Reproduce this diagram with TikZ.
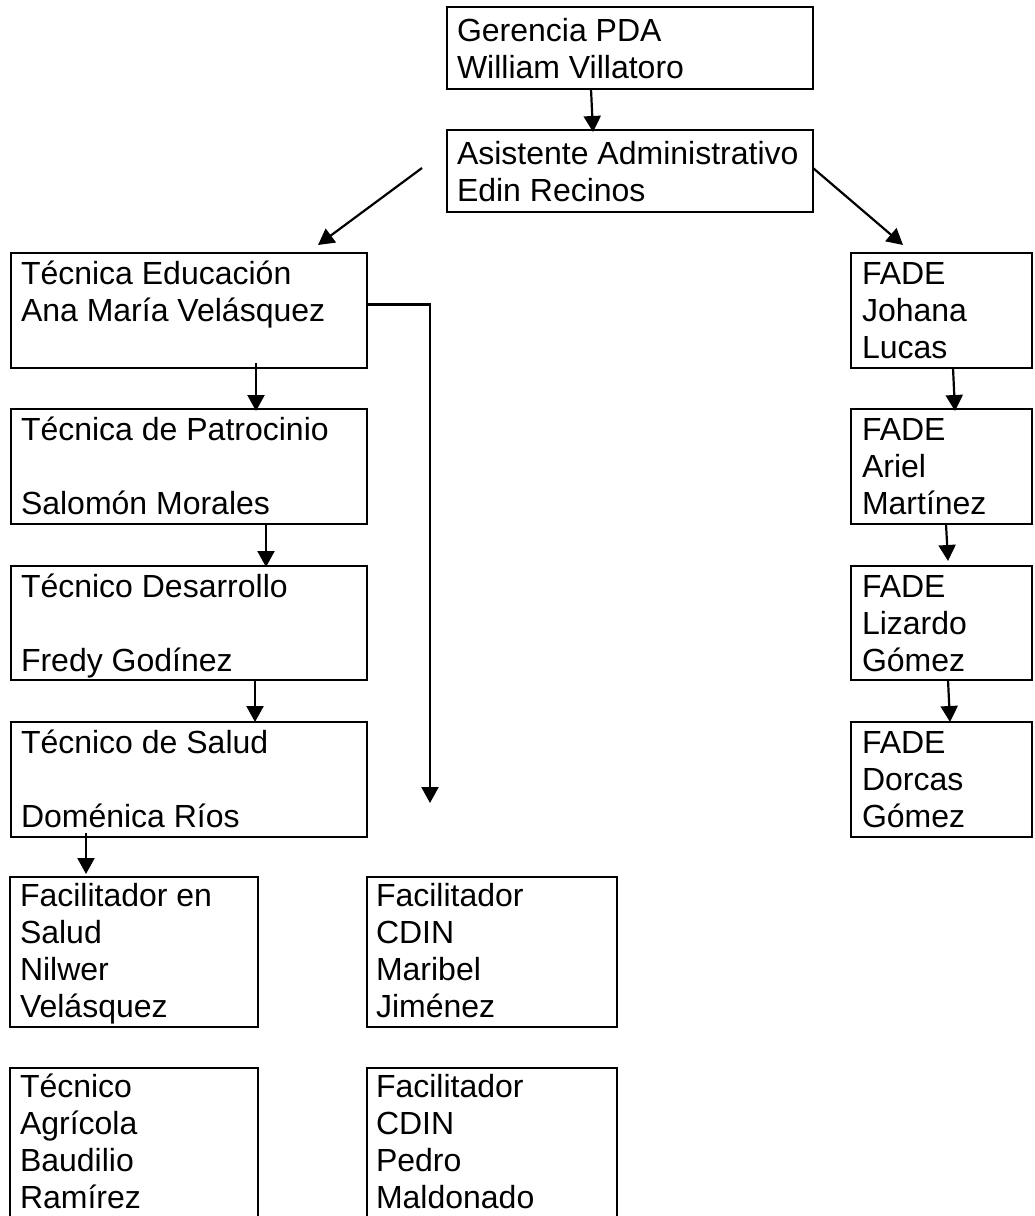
\documentclass[tikz,border=0pt]{standalone}
\usepackage{fontspec}
\setmainfont{Liberation Sans}
\usetikzlibrary{arrows.meta,calc}
\newcommand\mkbox[5]{\node[box,minimum width={(#4-#2)*0.5pt},minimum height={(#5-#3)*0.5pt}] (#1) at (#2,#3) {};}
\begin{document}
\begin{tikzpicture}[x=0.5pt,y=-0.5pt,
  box/.style={draw,line width=1.1pt,rectangle,inner sep=0pt,outer sep=0pt,anchor=north west},
  txt/.style={anchor=north west,inner sep=0pt,outer sep=0pt,align=left,font=\fontsize{16pt}{18.4pt}\selectfont},
  arr/.style={line width=1.1pt,-{Triangle[width=8.5pt,length=8pt]}}]
\useasboundingbox (0,0) rectangle (1034,1216);
\clip (0,0) rectangle (1034,1216);
% boxes
\mkbox{ger}{447}{7}{813}{89}
\mkbox{asi}{447}{130}{813}{212}
\mkbox{edu}{11}{253}{367}{368}
\mkbox{pat}{11}{409}{367}{524}
\mkbox{des}{11}{566}{367}{680}
\mkbox{sal}{11}{722}{367}{837}
\mkbox{fs}{10}{877}{258}{1027}
\mkbox{fci}{367}{877}{617}{1027}
\mkbox{ta}{10}{1068}{258}{1240}
\mkbox{fcii}{367}{1068}{617}{1240}
\mkbox{fa}{851}{253}{1032}{368}
\mkbox{fb}{851}{409}{1032}{524}
\mkbox{fc}{851}{566}{1032}{680}
\mkbox{fd}{851}{722}{1032}{837}
% texts
\node[txt] (gerT) at ($(ger.north west)+(10,9)$) {\strut Gerencia PDA\\William Villatoro};
\node[txt] (asiT) at ($(asi.north west)+(10,9)$) {\strut Asistente Administrativo\\Edin Recinos};
\node[txt] (eduT) at ($(edu.north west)+(10,6)$) {\strut Técnica Educación\\Ana María Velásquez};
\node[txt] (patT) at ($(pat.north west)+(10,6)$) {\strut Técnica de Patrocinio\\\strut\\Salomón Morales};
\node[txt] (desT) at ($(des.north west)+(10,6)$) {\strut Técnico Desarrollo\\\strut\\Fredy Godínez};
\node[txt] (salT) at ($(sal.north west)+(10,6)$) {\strut Técnico de Salud\\\strut\\Doménica Ríos};
\node[txt] (fsT) at ($(fs.north west)+(10,4)$) {\strut Facilitador en\\Salud\\Nilwer\\Velásquez};
\node[txt] (fciT) at ($(fci.north west)+(9,4)$) {\strut Facilitador\\CDIN\\Maribel\\Jiménez};
\node[txt] (taT) at ($(ta.north west)+(10,4)$) {\strut Técnico\\Agrícola\\Baudilio\\Ramírez};
\node[txt] (fciiT) at ($(fcii.north west)+(9,4)$) {\strut Facilitador\\CDIN\\Pedro\\Maldonado};
\node[txt] (faT) at ($(fa.north west)+(11,6)$) {\strut FADE\\Johana\\Lucas};
\node[txt] (fbT) at ($(fb.north west)+(11,6)$) {\strut FADE\\Ariel\\Martínez};
\node[txt] (fcT) at ($(fc.north west)+(11,6)$) {\strut FADE\\Lizardo\\Gómez};
\node[txt] (fdT) at ($(fd.north west)+(11,6)$) {\strut FADE\\Dorcas\\Gómez};
% connectors
\draw[arr] ($(ger.south west)+(144,0)$) -- ($(asi.north west)+(146,2)$);
\draw[arr] ($(asi.west)+(-25,-3)$) -- ($(edu.north west)+(307,-8)$);
\draw[arr] ($(asi.east)+(0,-3)$) -- ($(fa.north west)+(52,-8)$);
\draw[arr] ($(edu.south west)+(245,-5)$) -- ($(pat.north west)+(245,2)$);
\draw[arr] ($(pat.south west)+(255,0)$) -- ($(des.north west)+(255,1)$);
\draw[arr] ($(des.south west)+(244,0)$) -- ($(sal.north west)+(244,0)$);
\draw[arr] ($(sal.south west)+(75,-4)$) -- ($(fs.north west)+(76,-3)$);
\coordinate (elbowEnd) at (430,803);
\draw[arr] ($(edu.east)+(0,-6)$) -| (elbowEnd);
\draw[arr] ($(fa.south west)+(102,0)$) -- ($(fb.north west)+(104,2)$);
\draw[arr] ($(fb.south west)+(95,0)$) -- ($(fc.north west)+(97,-5)$);
\draw[arr] ($(fc.south west)+(97,0)$) -- ($(fd.north west)+(99,0)$);
\end{tikzpicture}
\end{document}
